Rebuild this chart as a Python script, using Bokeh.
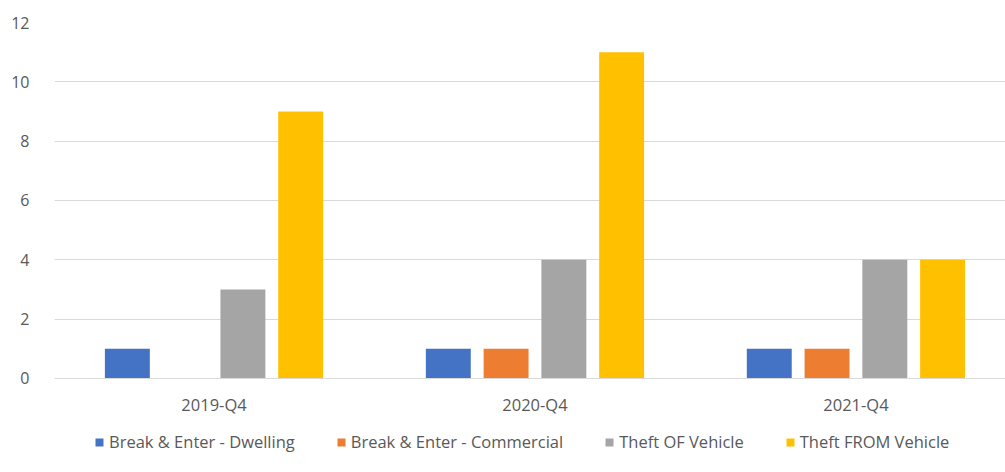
import numpy as np
from bokeh.plotting import figure
from bokeh.models import Range1d, FixedTicker, Legend, LegendItem
from bokeh.embed import file_html
from bokeh.resources import INLINE

categories = ["2019-Q4", "2020-Q4", "2021-Q4"]
series_names = ["Break & Enter - Dwelling", "Break & Enter - Commercial",
                "Theft OF Vehicle", "Theft FROM Vehicle"]
dwelling = [1, 1, 1]
commercial = [0, 1, 1]
theft_of = [3, 4, 4]
theft_from = [9, 11, 4]
y_ticks = [0, 2, 4, 6, 8, 10, 12]
colors = ["#4472C4", "#ED7D31", "#A5A5A5", "#FFC000"]

FONT = "Open Sans"
TXT = "#595959"

p = figure(width=1005, height=472, output_backend="svg", toolbar_location=None,
           x_range=Range1d(0.003, 2.966), y_range=Range1d(-3.169, 12),
           min_border_left=54, min_border_right=0, min_border_top=22,
           min_border_bottom=0)
p.outline_line_color = None

centers = np.arange(len(categories)) + 0.5
series = [dwelling, commercial, theft_of, theft_from]
items = []
for i, (name, vals, col) in enumerate(zip(series_names, series, colors)):
    off = (i - 1.5) * 0.18
    r = p.vbar(x=centers + off, top=vals, bottom=0, width=0.14,
               fill_color=col, line_color=None)
    items.append(LegendItem(label=name, renderers=[r]))

p.xgrid.visible = False
p.ygrid.grid_line_color = "#D9D9D9"
p.ygrid.ticker = FixedTicker(ticks=y_ticks[1:])

p.yaxis.ticker = FixedTicker(ticks=y_ticks)
p.yaxis.axis_line_color = None
p.yaxis.major_tick_line_color = None
p.yaxis.minor_tick_line_color = None
p.yaxis.major_label_standoff = 19
p.yaxis.major_label_text_font = FONT
p.yaxis.major_label_text_font_size = "16px"
p.yaxis.major_label_text_color = TXT

p.xaxis.fixed_location = 0
p.xaxis.ticker = FixedTicker(ticks=list(centers))
p.xaxis.major_label_overrides = {float(c): lab for c, lab in zip(centers, categories)}
p.xaxis.axis_line_color = "#D9D9D9"
p.xaxis.major_tick_line_color = None
p.xaxis.minor_tick_line_color = None
p.xaxis.major_label_standoff = 9
p.xaxis.major_label_text_font = FONT
p.xaxis.major_label_text_font_size = "16.5px"
p.xaxis.major_label_text_color = TXT

lg = Legend(items=items, orientation="horizontal", location=(40, 19),
            padding=0, margin=0, spacing=41, glyph_width=10, glyph_height=10,
            label_standoff=5, label_text_font=FONT, label_text_font_size="16.5px",
            label_text_color=TXT, border_line_color=None, background_fill_alpha=0)
p.add_layout(lg, "center")

open("out.html", "w").write(file_html(p, INLINE))
